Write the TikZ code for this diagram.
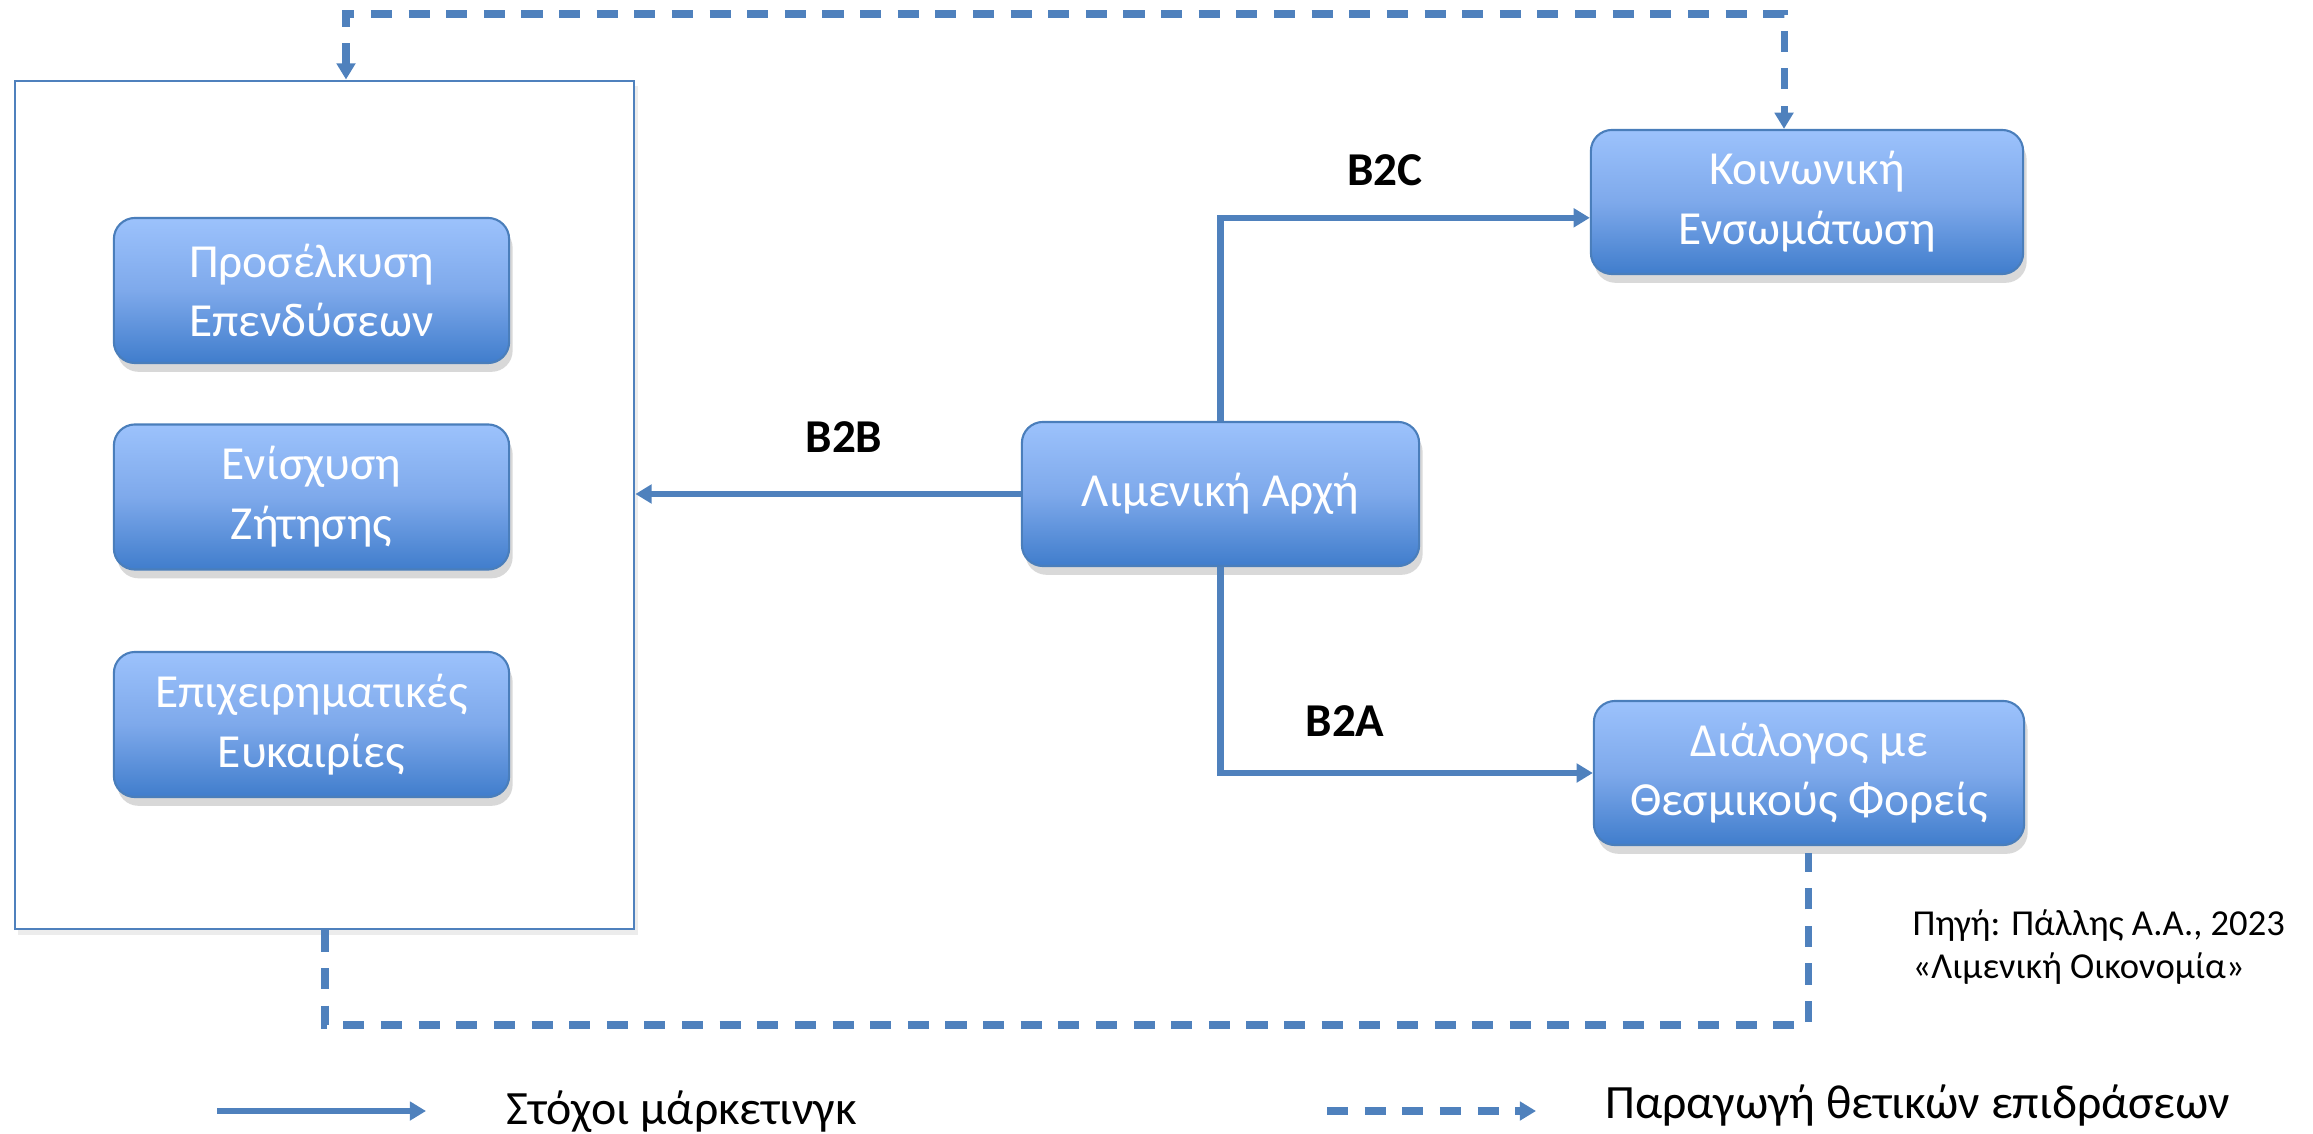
\documentclass[tikz,border=0pt]{standalone}
\usepackage{fontspec}
\setmainfont{Carlito}
\usetikzlibrary{arrows.meta,shadows}
\definecolor{lineblue}{RGB}{79,129,189}
\definecolor{topblue}{RGB}{156,194,252}
\definecolor{midblue}{RGB}{126,169,235}
\definecolor{botblue}{RGB}{64,125,204}
\definecolor{borderblue}{RGB}{74,126,187}
\begin{document}
\begin{tikzpicture}[x=0.01cm,y=-0.01cm,
  rbox/.style={rounded corners=6pt, draw=borderblue, line width=0.6pt,
    top color=topblue, bottom color=botblue, middle color=midblue,
    text=white, align=center, inner sep=0pt,
    font=\fontsize{13.5}{17}\selectfont,
    drop shadow={opacity=0.3, shadow xshift=1pt, shadow yshift=-2.5pt}},
  bigbox/.style={draw=lineblue, line width=0.7pt, fill=white, inner sep=0pt,
    drop shadow={opacity=0.15, shadow xshift=1pt, shadow yshift=-1.5pt}},
  solidarrow/.style={draw=lineblue, line width=1.8pt,
    -{Triangle[length=4.6pt,width=5.2pt]}},
  dashline/.style={draw=lineblue, line width=2pt, dash pattern=on 6pt off 4.7pt},
  dashtip/.style={{Triangle[length=4.6pt,width=5.2pt]}-{Triangle[length=4.6pt,width=5.2pt]}},
  lbl/.style={font=\fontsize{13.4}{15}\selectfont\bfseries, text=black, inner sep=0pt},
  legtext/.style={font=\fontsize{13.6}{15}\selectfont, text=black, inner sep=0pt, anchor=base west},
  srctext/.style={font=\fontsize{10.4}{12.3}\selectfont, text=black, inner sep=0pt, anchor=base west}]
\useasboundingbox (0,0) rectangle (2313,1134);

% big box and its contents
\node[bigbox, minimum width=6.19cm, minimum height=8.48cm] (big) at (324.5,505) {};
\node[rbox, minimum width=3.95cm, minimum height=1.45cm] (pros) at (311.5,290.5) {Προσέλκυση\\Επενδύσεων};
\node[rbox, minimum width=3.95cm, minimum height=1.45cm] (enis) at (311.5,497) {Ενίσχυση\\Ζήτησης};
\node[rbox, minimum width=3.95cm, minimum height=1.45cm] (epix) at (311.5,724.5) {Επιχειρηματικές\\Ευκαιρίες};

% right side boxes
\node[rbox, minimum width=3.97cm, minimum height=1.44cm] (limen) at (1220.5,494) {Λιμενική Αρχή};
\node[rbox, minimum width=4.32cm, minimum height=1.44cm] (koin) at (1807,202) {Κοινωνική\\Ενσωμάτωση};
\node[rbox, minimum width=4.30cm, minimum height=1.44cm] (dial) at (1809,773) {Διάλογος με\\Θεσμικούς Φορείς};

% solid connectors
\draw[solidarrow] (limen.west) -- (limen.west -| big.east);
\draw[solidarrow] (limen.north) |- ([yshift=-4.5pt]koin.west);
\draw[solidarrow] (limen.south) |- (dial.west);

\node[lbl] (b2b) at (844,437) {B2B};
\node[lbl] (b2c) at (1385,170) {B2C};
\node[lbl] (b2a) at (1345,721) {B2A};

% dashed connectors
\coordinate (tl) at (346,14);
\coordinate (tr) at (1784,14);
\draw[dashline, dashtip] (big.north -| tl) -- (tl) -- (tr) -- (koin.north -| tr);
\coordinate (bl) at (325,1025);
\coordinate (br) at (1808,1025);
\draw[dashline] (big.south -| bl) -- (bl) -- (br) -- ([yshift=-2pt]dial.south -| br);

% source
\node[srctext] (src1) at (1912,935.5) {Πηγή: Πάλλης Α.Α., 2023};
\node[srctext] (src2) at (1912,978.5) {«Λιμενική Οικονομία»};

% legend
\coordinate (ls1) at (217,1111);
\coordinate (ls2) at (426,1111);
\draw[solidarrow] (ls1) -- (ls2);
\node[legtext] (leg1) at (506,1124) {Στόχοι μάρκετινγκ};
\coordinate (ld1) at (1327,1111);
\coordinate (ld2) at (1536,1111);
\draw[dashline, -{Triangle[length=4.6pt,width=5.2pt]}] (ld1) -- (ld2);
\node[legtext] (leg2) at (1605,1118) {Παραγωγή θετικών επιδράσεων};
\end{tikzpicture}
\end{document}
